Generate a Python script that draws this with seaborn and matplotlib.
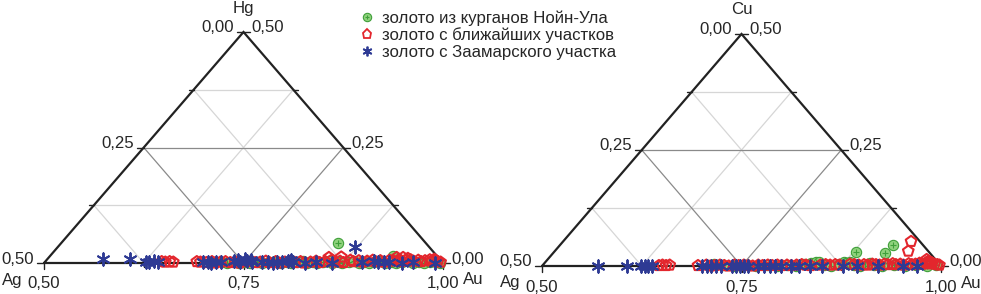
import matplotlib
matplotlib.use("Agg")
import matplotlib.pyplot as plt
from matplotlib.lines import Line2D
import numpy as np
import seaborn as sns

# Au - Ag - Hg diagram (left), Au - Ag - Cu diagram (right); mass fractions
hg_green_au = [0.722, 0.729, 0.736, 0.744, 0.751, 0.758, 0.766, 0.773, 0.781, 0.788,
               0.796, 0.803, 0.809, 0.816, 0.822, 0.829, 0.835, 0.842, 0.848, 0.855,
               0.861, 0.868, 0.874, 0.881, 0.887, 0.894, 0.900, 0.907, 0.913, 0.920,
               0.927, 0.934, 0.941, 0.948, 0.955, 0.962, 0.969, 0.976, 0.983, 0.990,
               0.996, 0.847, 0.930]
hg_green_hg = [0.002, 0.000, 0.003, 0.001, 0.002, 0.000, 0.003, 0.001, 0.002, 0.004,
               0.001, 0.003, 0.000, 0.002, 0.004, 0.001, 0.003, 0.000, 0.002, 0.004,
               0.001, 0.003, 0.000, 0.002, 0.004, 0.001, 0.003, 0.000, 0.002, 0.004,
               0.001, 0.003, 0.000, 0.002, 0.004, 0.001, 0.003, 0.000, 0.002, 0.003,
               0.001, 0.043, 0.015]

hg_red_au = [0.646, 0.651, 0.656, 0.661, 0.690, 0.695, 0.703, 0.709, 0.714, 0.720,
             0.726, 0.733, 0.739, 0.745, 0.752, 0.764, 0.770, 0.776, 0.782, 0.789,
             0.795, 0.801, 0.807, 0.814, 0.820, 0.826, 0.833, 0.839, 0.845, 0.851,
             0.857, 0.863, 0.869, 0.875, 0.881, 0.886, 0.892, 0.898, 0.903, 0.909,
             0.914, 0.919, 0.925, 0.930, 0.936, 0.941, 0.946, 0.951, 0.956, 0.961,
             0.966, 0.971, 0.975, 0.980, 0.984, 0.988, 0.992, 0.996, 0.851, 0.866,
             0.936, 0.944, 0.951, 0.985]
hg_red_hg = [0.003, 0.002, 0.003, 0.002, 0.003, 0.002, 0.001, 0.003, 0.000, 0.002,
             0.003, 0.001, 0.002, 0.000, 0.003, 0.001, 0.002, 0.004, 0.001, 0.003,
             0.000, 0.002, 0.004, 0.001, 0.003, 0.000, 0.002, 0.004, 0.001, 0.003,
             0.005, 0.002, 0.004, 0.001, 0.006, 0.003, 0.005, 0.002, 0.004, 0.006,
             0.003, 0.005, 0.002, 0.006, 0.004, 0.007, 0.003, 0.005, 0.007, 0.004,
             0.006, 0.003, 0.005, 0.007, 0.004, 0.006, 0.003, 0.002, 0.012, 0.013,
             0.012, 0.012, 0.010, 0.008]

hg_blue_au = [0.570, 0.604, 0.626, 0.631, 0.636, 0.641, 0.698, 0.704, 0.709, 0.715,
              0.720, 0.736, 0.740, 0.744, 0.748, 0.752, 0.756, 0.760, 0.772, 0.779,
              0.786, 0.791, 0.797, 0.803, 0.807, 0.811, 0.826, 0.840, 0.861, 0.897,
              0.912, 0.918, 0.925, 0.931, 0.948, 0.962, 0.990, 0.872]
hg_blue_hg = [0.008, 0.008, 0.003, 0.002, 0.004, 0.003, 0.002, 0.003, 0.001, 0.002,
              0.003, 0.004, 0.006, 0.003, 0.008, 0.005, 0.007, 0.002, 0.002, 0.003,
              0.001, 0.003, 0.002, 0.005, 0.006, 0.003, 0.001, 0.002, 0.001, 0.002,
              0.004, 0.002, 0.003, 0.002, 0.001, 0.002, 0.001, 0.035]

cu_green_au = [0.713, 0.726, 0.741, 0.754, 0.768, 0.781, 0.794, 0.806, 0.818, 0.826,
               0.834, 0.839, 0.843, 0.852, 0.862, 0.870, 0.874, 0.878, 0.882, 0.890,
               0.898, 0.907, 0.915, 0.926, 0.940, 0.955, 0.968, 0.982, 0.993, 0.879,
               0.916, 0.917]
cu_green_cu = [0.004, 0.002, 0.001, 0.002, 0.001, 0.003, 0.000, 0.002, 0.001, 0.004,
               0.006, 0.009, 0.008, 0.002, 0.001, 0.005, 0.008, 0.007, 0.008, 0.002,
               0.001, 0.007, 0.002, 0.001, 0.002, 0.001, 0.002, 0.001, 0.002, 0.030,
               0.028, 0.046]

cu_red_au = [0.646, 0.650, 0.655, 0.659, 0.695, 0.705, 0.711, 0.716, 0.722, 0.728,
             0.734, 0.740, 0.746, 0.752, 0.758, 0.764, 0.770, 0.776, 0.782, 0.788,
             0.794, 0.800, 0.806, 0.812, 0.818, 0.824, 0.830, 0.836, 0.848, 0.854,
             0.860, 0.866, 0.872, 0.884, 0.890, 0.896, 0.902, 0.907, 0.912, 0.917,
             0.922, 0.927, 0.932, 0.937, 0.942, 0.947, 0.952, 0.957, 0.962, 0.966,
             0.970, 0.974, 0.978, 0.982, 0.986, 0.990, 0.994, 0.997, 0.936, 0.943,
             0.975, 0.979, 0.983, 0.986, 0.980]
cu_red_cu = [0.001, 0.002, 0.001, 0.002, 0.001, 0.002, 0.000, 0.001, 0.002, 0.001,
             0.000, 0.002, 0.001, 0.002, 0.001, 0.000, 0.002, 0.001, 0.002, 0.001,
             0.002, 0.001, 0.002, 0.001, 0.002, 0.003, 0.002, 0.001, 0.002, 0.003,
             0.002, 0.003, 0.002, 0.004, 0.003, 0.002, 0.003, 0.002, 0.004, 0.003,
             0.002, 0.004, 0.003, 0.005, 0.003, 0.004, 0.002, 0.005, 0.003, 0.004,
             0.006, 0.004, 0.007, 0.005, 0.006, 0.004, 0.003, 0.002, 0.053, 0.032,
             0.014, 0.010, 0.008, 0.006, 0.005]

cu_blue_au = [0.570, 0.606, 0.624, 0.628, 0.633, 0.637, 0.700, 0.706, 0.712, 0.718,
              0.724, 0.738, 0.743, 0.748, 0.753, 0.758, 0.771, 0.778, 0.786, 0.792,
              0.800, 0.812, 0.822, 0.835, 0.851, 0.877, 0.895, 0.921, 0.952, 0.970]
cu_blue_cu = [0.000, 0.000, 0.000, 0.001, 0.000, 0.001, 0.000, 0.001, 0.000, 0.001,
              0.000, 0.001, 0.000, 0.001, 0.000, 0.001, 0.000, 0.001, 0.000, 0.001,
              0.000, 0.001, 0.000, 0.001, 0.000, 0.001, 0.000, 0.001, 0.000, 0.001]

series_labels = ["золото из курганов Нойн-Ула",
                 "золото с ближайших участков",
                 "золото с Заамарского участка"]
ag_ticks = ["0,50", "0,25", "0,00"]     # left side, bottom -> top
third_ticks = ["0,00", "0,25", "0,50"]  # right side, bottom -> top
au_ticks = ["0,50", "0,75", "1,00"]     # bottom, left -> right

GREEN_FACE = "#8fd27c"
GREEN_EDGE = "#3f9f3a"
RED = "#e3262d"
BLUE = "#2e3a94"
FS = 12.1


def to_xy(au, third):
    # sub-triangle Au >= 0.5 : corners (Ag .5, Au .5) / (Au 1) / (Au .5, X .5)
    au = np.asarray(au, dtype=float)
    third = np.asarray(third, dtype=float)
    w_top = 2 * third
    w_br = 2 * au - 1
    return w_br + 0.5 * w_top, w_top


def draw_frame(ax, apex_label):
    ax.set_xlim(0, 1)
    ax.set_ylim(0, 1)
    ax.axis("off")
    for t in (0.25, 0.5, 0.75):
        col = "#8a8a8a" if t == 0.5 else "#d6d6d6"
        ax.plot([t / 2, 1 - t / 2], [t, t], color=col, lw=0.9, zorder=1)
        ax.plot([t, t + (1 - t) / 2], [0, 1 - t], color=col, lw=0.9, zorder=1)
        ax.plot([1 - t, (1 - t) / 2], [0, 1 - t], color=col, lw=0.9, zorder=1)
    ax.plot([0, 1, 0.5, 0], [0, 0, 1, 0], color="#222222", lw=1.6, zorder=2,
            clip_on=False, solid_joinstyle="miter")

    for i, s in enumerate([0, 0.25, 0.5, 0.75, 1]):
        major = i % 2 == 0
        lx = 0.017 if major else 0.011
        ly = 0.024 if major else 0.016
        # left side (Ag)
        x0, y0 = s / 2, s
        ax.plot([x0 - lx, x0], [y0, y0], color="#222222", lw=1.0, clip_on=False, zorder=2)
        # right side (Hg / Cu)
        x1, y1 = 1 - s / 2, s
        ax.plot([x1, x1 + lx], [y1, y1], color="#222222", lw=1.0, clip_on=False, zorder=2)
        # bottom (Au)
        ax.plot([s, s], [0, -ly], color="#222222", lw=1.0, clip_on=False, zorder=2)
        if major:
            k = i // 2
            ax.annotate(ag_ticks[k], (x0, y0), xytext=(-10, 4), textcoords="offset pixels",
                        ha="right", va="center", fontsize=FS)
            ax.annotate(third_ticks[k], (x1, y1), xytext=(8, 4), textcoords="offset pixels",
                        ha="left", va="center", fontsize=FS)
            ax.annotate(au_ticks[k], (s, 0), xytext=(0, -21), textcoords="offset pixels",
                        ha="center", va="center", fontsize=FS)
    ax.annotate(apex_label, (0.5, 1), xytext=(0, 24), textcoords="offset pixels",
                ha="center", va="center", fontsize=FS)
    ax.annotate("Ag", (0, 0), xytext=(-32, -17), textcoords="offset pixels",
                ha="center", va="center", fontsize=FS)
    ax.annotate("Au", (1, 0), xytext=(30, -17), textcoords="offset pixels",
                ha="center", va="center", fontsize=FS)


def draw_points(ax, g, r, b):
    gx, gy = to_xy(*g)
    rx, ry = to_xy(*r)
    bx, by = to_xy(*b)
    sns.scatterplot(x=gx, y=gy, ax=ax, marker="o", s=55, color=GREEN_FACE,
                    edgecolor=GREEN_EDGE, linewidth=0.8, zorder=3, clip_on=False, legend=False)
    sns.scatterplot(x=gx, y=gy, ax=ax, marker="+", s=20, color=GREEN_EDGE,
                    linewidth=0.8, zorder=3, clip_on=False, legend=False)
    sns.scatterplot(x=rx, y=ry, ax=ax, marker="p", s=65, facecolor="none",
                    edgecolor=RED, linewidth=1.5, zorder=4, clip_on=False, legend=False)
    sns.scatterplot(x=bx, y=by, ax=ax, marker=(6, 2, 0), s=80, color=BLUE,
                    linewidth=1.4, zorder=5, clip_on=False, legend=False)


sns.set_style("white")
plt.rcParams["font.family"] = ["Liberation Sans", "DejaVu Sans"]

fig = plt.figure(figsize=(9.81, 2.94), dpi=100)
ax_hg = fig.add_axes([44 / 981, 31 / 294, 399 / 981, 231 / 294])
ax_cu = fig.add_axes([542 / 981, 28 / 294, 399 / 981, 232 / 294])

draw_frame(ax_hg, "Hg")
draw_frame(ax_cu, "Cu")
draw_points(ax_hg, (hg_green_au, hg_green_hg), (hg_red_au, hg_red_hg), (hg_blue_au, hg_blue_hg))
draw_points(ax_cu, (cu_green_au, cu_green_cu), (cu_red_au, cu_red_cu), (cu_blue_au, cu_blue_cu))

h_green = (Line2D([], [], ls="", marker="o", ms=6, mfc=GREEN_FACE, mec=GREEN_EDGE, mew=0.8),
           Line2D([], [], ls="", marker="+", ms=3.5, color=GREEN_EDGE, mew=0.8))
h_red = Line2D([], [], ls="", marker="p", ms=6.5, mfc="none", mec=RED, mew=1.3)
h_blue = Line2D([], [], ls="", marker=(6, 2, 0), ms=7, color=BLUE, mew=1.3)
fig.legend([h_green, h_red, h_blue], series_labels, loc="upper left",
           bbox_to_anchor=(361 / 981, 1 - 10 / 294), frameon=False, fontsize=FS,
           handlelength=0.7, handletextpad=0.55, labelspacing=0.12,
           borderpad=0, borderaxespad=0)

fig.savefig("out.png", dpi=100)
